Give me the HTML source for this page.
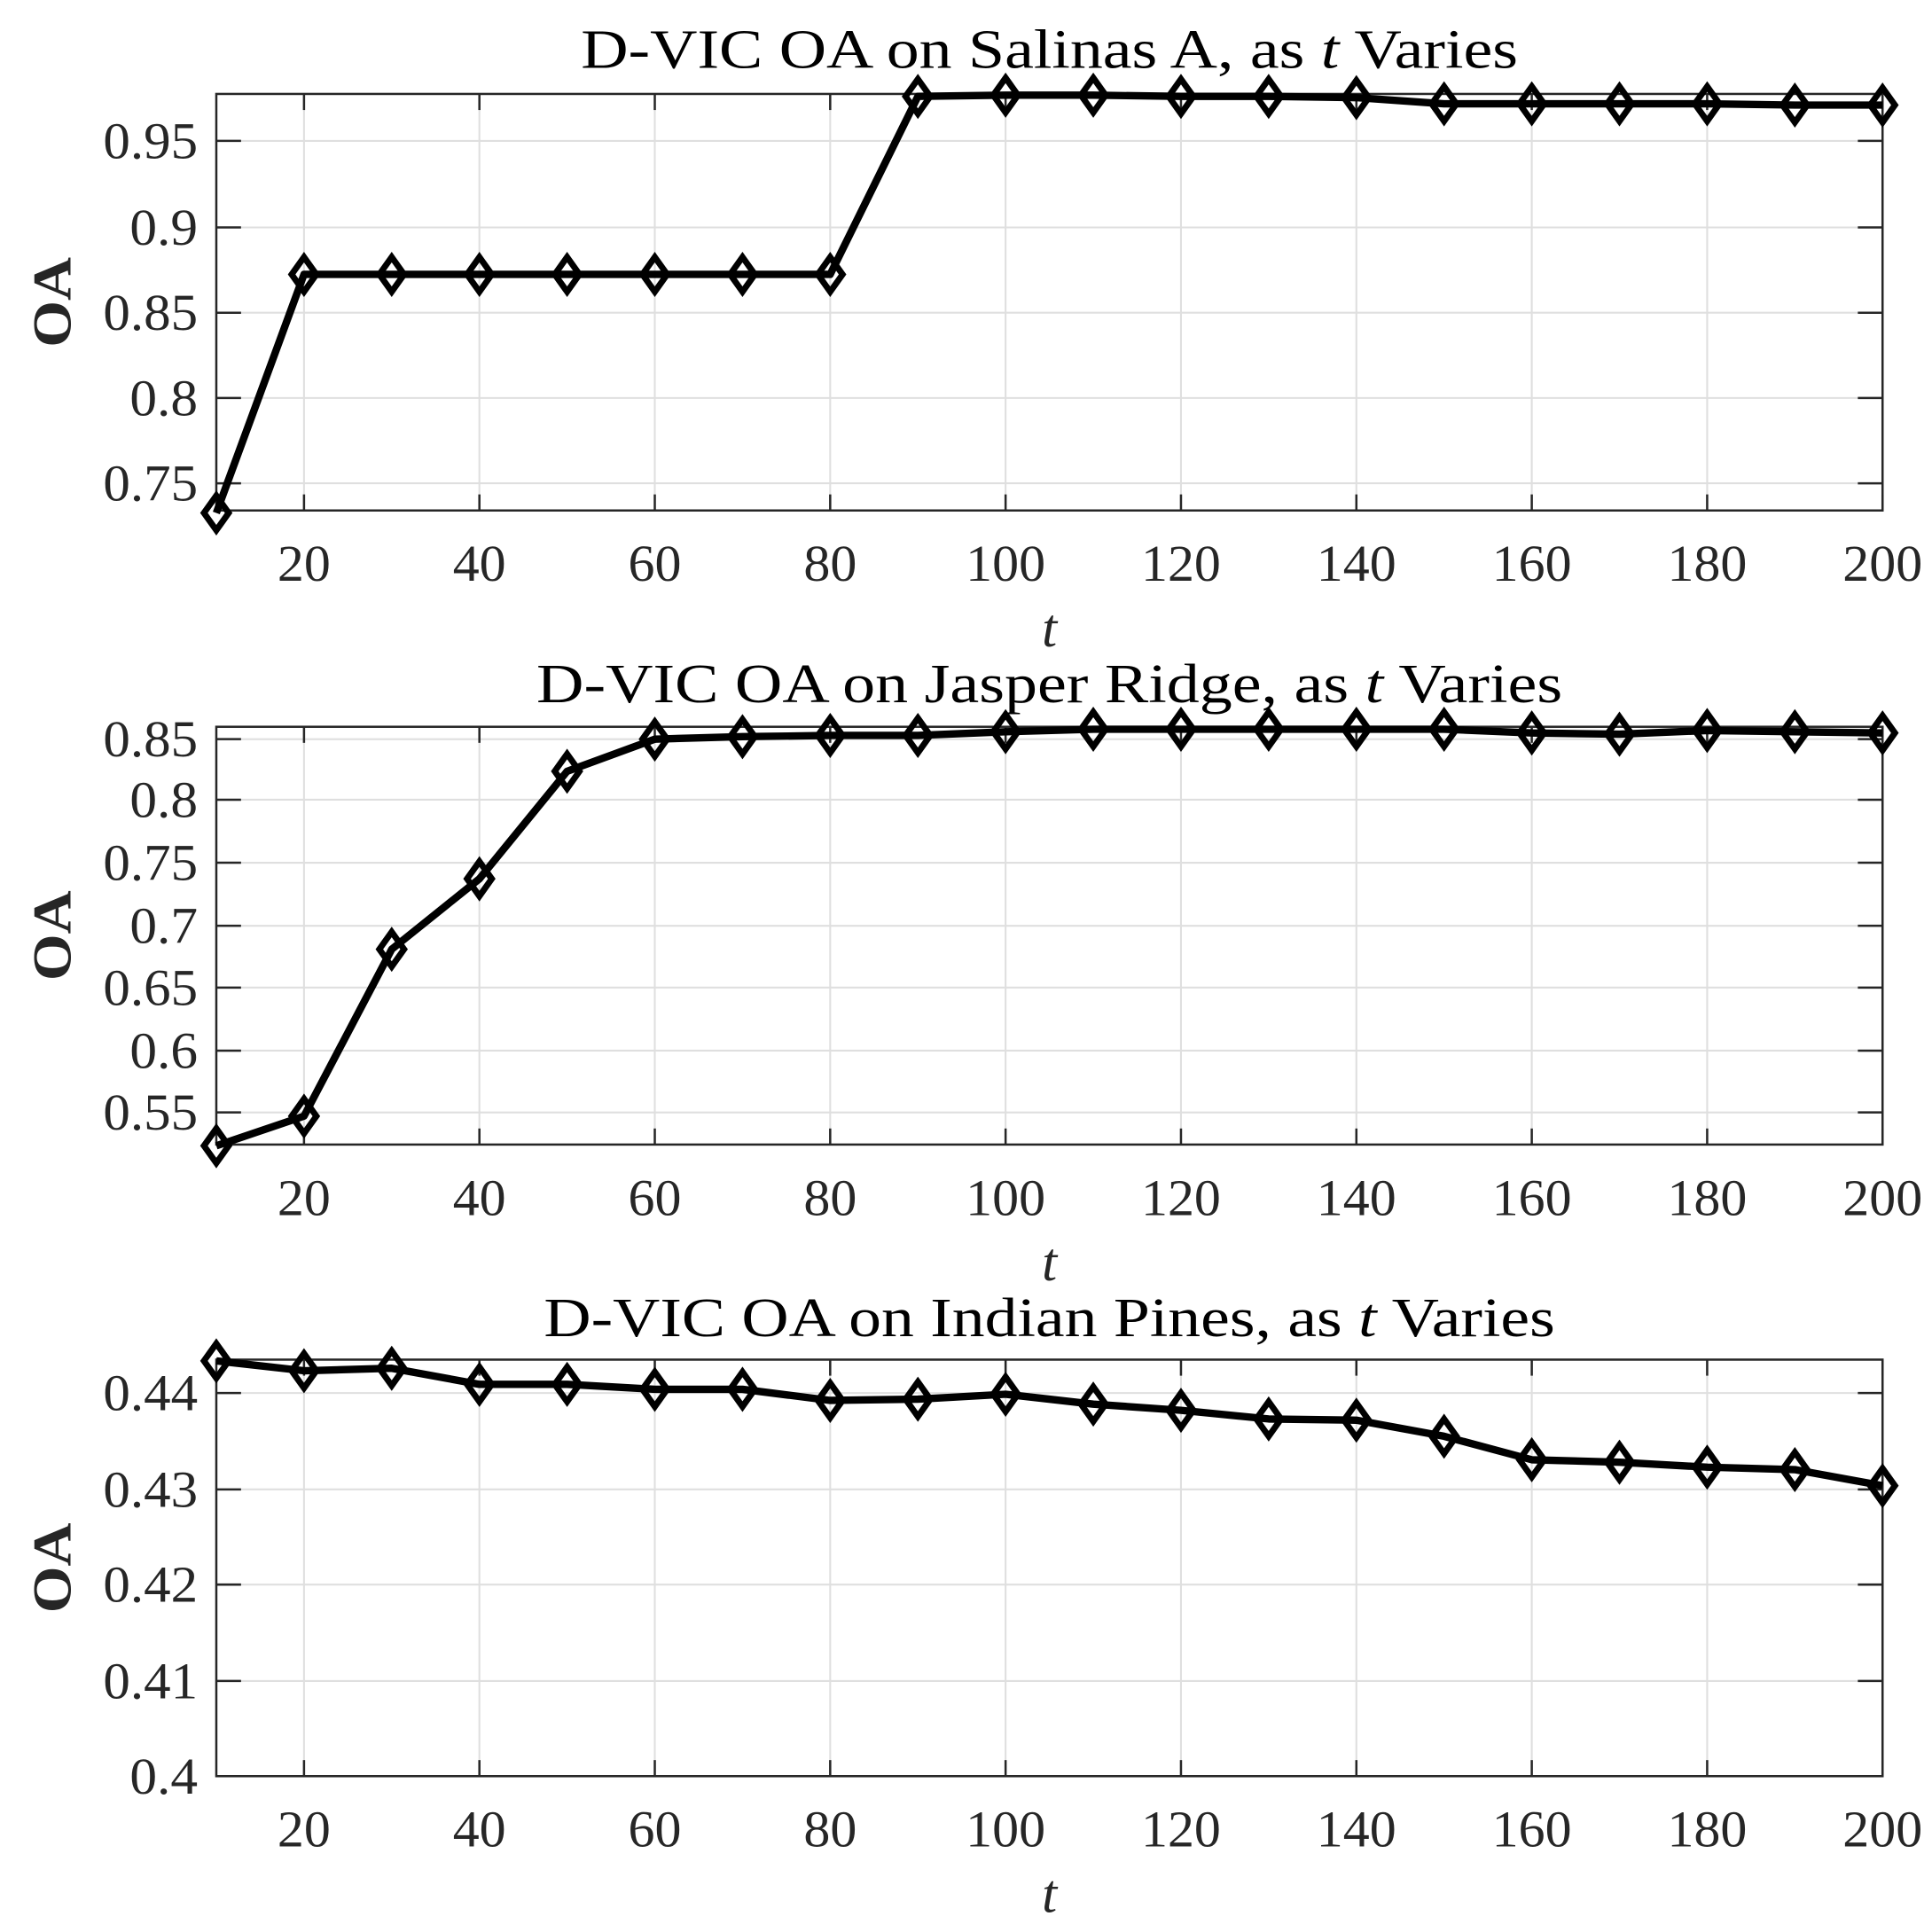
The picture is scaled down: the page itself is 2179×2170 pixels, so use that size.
<!DOCTYPE html>
<html><head><meta charset="utf-8"><style>
html,body{margin:0;padding:0;background:#fff;}
svg{display:block;}
text{font-family:"Liberation Serif",serif;fill:#262626;}
</style></head><body>
<svg id="s" width="2179" height="2170" viewBox="0 0 1563 1556.6" preserveAspectRatio="none" xmlns="http://www.w3.org/2000/svg"></svg>
<script>
const S=document.getElementById('s');
let h='';
const X=t=>175+(t-10)*1348/190;
const ts=[];for(let t=10;t<=200;t+=10)ts.push(t);
const W=s=>{let w=0;for(const c of String(s))w+=(c=='.')?12:21.5;return w;};
const axes=[
 {top:76,bot:413,title:'Salinas A',tw:758,ty:40,yt:[[0.95,114],[0.9,184],[0.85,253],[0.8,322],[0.75,391]],
  d:[415,222,222,222,222,222,222,222,78,77,77,78,78,79,84,84,84,84,85,85]},
 {top:588,bot:926,title:'Jasper Ridge',tw:830,ty:553,yt:[[0.85,598],[0.8,647],[0.75,698],[0.7,749],[0.65,799],[0.6,850],[0.55,900]],
  d:[927,903,768,711,624,598,596,595,595,592,590,590,590,590,590,593,594,591,592,593]},
 {top:1100,bot:1437,title:'Indian Pines',tw:818,ty:1066,yt:[[0.44,1127],[0.43,1205],[0.42,1282],[0.41,1360],[0.4,1437]],
  d:[1101,1109,1107,1120,1120,1124,1124,1133,1132,1128,1136,1141,1148,1149,1162,1181,1183,1187,1189,1202]}
];
for(const a of axes){
 for(let t=20;t<=200;t+=20){const x=X(t);h+=`<line x1="${x}" y1="${a.top}" x2="${x}" y2="${a.bot}" stroke="#dfdfdf" stroke-width="1.5"/>`;}
 for(const [v,y] of a.yt){h+=`<line x1="175" y1="${y}" x2="1523" y2="${y}" stroke="#dfdfdf" stroke-width="1.5"/>`;}
 for(let t=20;t<=200;t+=20){const x=X(t);h+=`<line x1="${x}" y1="${a.top}" x2="${x}" y2="${a.top+13}" stroke="#262626" stroke-width="1.8"/><line x1="${x}" y1="${a.bot}" x2="${x}" y2="${a.bot-13}" stroke="#262626" stroke-width="1.8"/>`;
  h+=`<text x="${x}" y="${a.bot+57}" font-size="42" text-anchor="middle" textLength="${W(t)}" lengthAdjust="spacingAndGlyphs">${t}</text>`;}
 for(const [v,y] of a.yt){h+=`<line x1="175" y1="${y}" x2="195" y2="${y}" stroke="#262626" stroke-width="1.8"/><line x1="1523" y1="${y}" x2="1503" y2="${y}" stroke="#262626" stroke-width="1.8"/>`;
  h+=`<text x="160" y="${y+14}" font-size="42" text-anchor="end" textLength="${W(v)}" lengthAdjust="spacingAndGlyphs">${v}</text>`;}
 h+=`<rect x="175" y="${a.top}" width="1348" height="${a.bot-a.top}" fill="none" stroke="#262626" stroke-width="1.8"/>`;
 h+=`<polyline fill="none" stroke="#000" stroke-width="6" stroke-linejoin="round" points="${a.d.map((y,i)=>X(ts[i])+','+y).join(' ')}"/>`;
 for(let i=0;i<a.d.length;i++){const x=X(ts[i]),y=a.d[i];
  h+=`<polygon points="${x},${y-14} ${x+10},${y} ${x},${y+14} ${x-10},${y}" fill="none" stroke="#000" stroke-width="5"/>`;}
 h+=`<text x="849" y="${a.ty+15}" font-size="45" text-anchor="middle" style="fill:#000" textLength="${a.tw}" lengthAdjust="spacingAndGlyphs">D-VIC OA on ${a.title}, as <tspan font-style="italic">t</tspan> Varies</text>`;
 h+=`<text x="849" y="${a.bot+110}" font-size="44" font-style="italic" text-anchor="middle">t</text>`;
 const cy=(a.top+a.bot)/2;
 h+=`<text x="0" y="0" font-size="44" font-weight="bold" text-anchor="middle" textLength="73" lengthAdjust="spacingAndGlyphs" transform="translate(57,${cy}) rotate(-90)">OA</text>`;
}
S.innerHTML=h;
</script>
</body></html>
